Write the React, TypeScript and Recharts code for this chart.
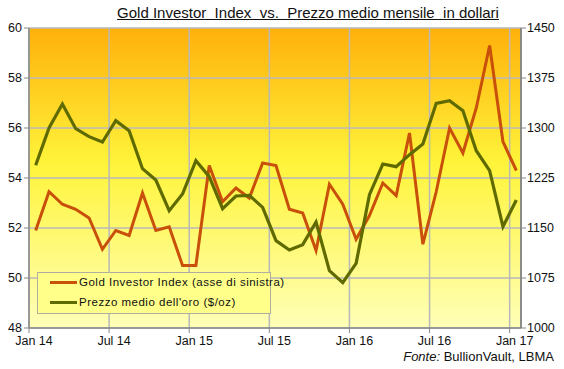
import React from 'react';
import { ComposedChart, Line, XAxis, YAxis, CartesianGrid } from 'recharts';

// mesi da Gen 2014 a Gen 2017
const months: string[] = [
  'Jan 14', 'Feb 14', 'Mar 14', 'Apr 14', 'May 14', 'Jun 14', 'Jul 14', 'Aug 14', 'Sep 14', 'Oct 14', 'Nov 14', 'Dec 14',
  'Jan 15', 'Feb 15', 'Mar 15', 'Apr 15', 'May 15', 'Jun 15', 'Jul 15', 'Aug 15', 'Sep 15', 'Oct 15', 'Nov 15', 'Dec 15',
  'Jan 16', 'Feb 16', 'Mar 16', 'Apr 16', 'May 16', 'Jun 16', 'Jul 16', 'Aug 16', 'Sep 16', 'Oct 16', 'Nov 16', 'Dec 16',
  'Jan 17',
];

const investorIndex: number[] = [
  51.9, 53.45, 52.95, 52.75, 52.4, 51.15, 51.9, 51.7, 53.4, 51.9, 52.05, 50.5,
  50.5, 54.5, 53.05, 53.6, 53.2, 54.6, 54.5, 52.75, 52.6, 51.1, 53.75, 52.95,
  51.55, 52.5, 53.8, 53.3, 55.8, 51.35, 53.45, 56.0, 55.0, 56.8, 59.3, 55.45,
  54.3,
];

const goldPrice: number[] = [
  1244, 1300, 1336, 1299, 1287, 1279, 1311, 1296, 1239, 1222, 1176, 1201,
  1251, 1227, 1179, 1198, 1199, 1181, 1131, 1117, 1125, 1159, 1086, 1068,
  1097, 1200, 1246, 1242, 1260, 1276, 1337, 1341, 1326, 1266, 1236, 1152,
  1192,
];

const xTicks = [0, 6, 12, 18, 24, 30, 36];
const leftTicks = [48, 50, 52, 54, 56, 58, 60];
const rightTicks = [1000, 1075, 1150, 1225, 1300, 1375, 1450];

const data = months.map((m, i) => ({
  t: i + 0.5,
  month: m,
  index: investorIndex[i],
  gold: goldPrice[i],
}));

const font = '"Liberation Sans", Arial, sans-serif';

const XTick = (props: any) => {
  const { x, y, payload } = props;
  return (
    <text x={x + 5} y={y + 10} textAnchor="middle" fontSize={12.5} fontFamily={font} fill="#111">
      {months[payload.value]}
    </text>
  );
};

const legendRow: React.CSSProperties = {
  position: 'absolute',
  left: 12,
  display: 'flex',
  alignItems: 'center',
  whiteSpace: 'nowrap',
};

export default function App() {
  return (
    <div style={{ position: 'relative', width: 564, height: 369, background: '#fff' }}>
      <style>{'body{margin:0}'}</style>
      <div
        style={{
          position: 'absolute',
          left: 0,
          width: 616,
          top: 4,
          textAlign: 'center',
          fontFamily: font,
          fontSize: 15,
          color: '#111',
          textDecoration: 'underline',
          whiteSpace: 'pre',
        }}
      >
        {'Gold Investor  Index  vs.  Prezzo medio mensile  in dollari'}
      </div>
      <ComposedChart
        width={564}
        height={369}
        data={data}
        margin={{ top: 28, right: 0, bottom: 0, left: 0 }}
      >
        <defs>
          <linearGradient id="bg" x1="0" y1="0" x2="0" y2="1">
            <stop offset="0%" stopColor="#FFB00A" />
            <stop offset="45%" stopColor="#FFF43A" />
            <stop offset="100%" stopColor="#FFFFB8" />
          </linearGradient>
        </defs>
        <CartesianGrid yAxisId="left" fill="url(#bg)" stroke="#B8B8B8" strokeWidth={1.5} />
        <XAxis
          dataKey="t"
          type="number"
          domain={[0, 36.85]}
          ticks={xTicks}
          tick={<XTick />}
          height={41}
          axisLine={{ stroke: '#888', strokeWidth: 1.5 }}
          tickLine={{ stroke: '#888' }}
          tickSize={5}
          interval={0}
          allowDataOverflow
        />
        <YAxis
          yAxisId="left"
          orientation="left"
          domain={[48, 60]}
          ticks={leftTicks}
          width={29}
          tick={{ fontSize: 12.5, fontFamily: font, fill: '#111' }}
          axisLine={{ stroke: '#888', strokeWidth: 1.5 }}
          tickLine={{ stroke: '#888' }}
          tickSize={5}
          tickMargin={2}
          interval={0}
        />
        <YAxis
          yAxisId="right"
          orientation="right"
          domain={[1000, 1450]}
          ticks={rightTicks}
          width={43}
          tick={{ fontSize: 12.5, fontFamily: font, fill: '#111' }}
          axisLine={{ stroke: '#777', strokeWidth: 1.5 }}
          tickLine={{ stroke: '#888' }}
          tickSize={5}
          tickMargin={1}
          interval={0}
        />
        <Line
          yAxisId="left"
          dataKey="index"
          stroke="#C8500A"
          strokeWidth={3}
          dot={false}
          isAnimationActive={false}
          name="Gold Investor Index (asse di sinistra)"
        />
        <Line
          yAxisId="right"
          dataKey="gold"
          stroke="#5F6A00"
          strokeWidth={3.2}
          dot={false}
          isAnimationActive={false}
          name="Prezzo medio dell'oro ($/oz)"
        />
      </ComposedChart>
      <div
        style={{
          position: 'absolute',
          left: 37,
          top: 272,
          width: 234,
          height: 42,
          background: '#FFFF8A',
          border: '1px solid #AFAFA0',
          fontFamily: font,
          fontSize: 11.5,
          letterSpacing: 0.5,
          color: '#111',
          boxSizing: 'border-box',
        }}
      >
        <div style={{ ...legendRow, top: 3 }}>
          <span style={{ display: 'inline-block', width: 27, height: 3, background: '#C8500A', marginRight: 2 }} />
          Gold Investor Index (asse di sinistra)
        </div>
        <div style={{ ...legendRow, top: 23 }}>
          <span style={{ display: 'inline-block', width: 27, height: 3, background: '#5F6A00', marginRight: 2 }} />
          Prezzo medio dell'oro ($/oz)
        </div>
      </div>
      <div
        style={{
          position: 'absolute',
          right: 10,
          top: 349,
          fontFamily: font,
          fontSize: 13,
          color: '#111',
        }}
      >
        <i>Fonte:</i> BullionVault, LBMA
      </div>
    </div>
  );
}
